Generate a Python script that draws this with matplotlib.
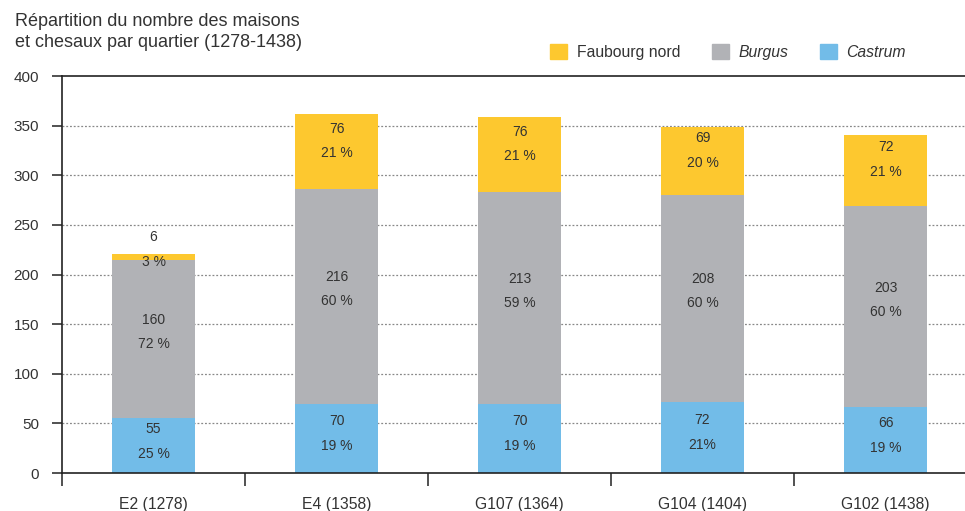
import matplotlib.pyplot as plt
from matplotlib.patches import Patch
import numpy as np

plt.rcParams['font.family'] = ['Liberation Sans', 'DejaVu Sans']

categories = ['E2 (1278)', 'E4 (1358)', 'G107 (1364)', 'G104 (1404)', 'G102 (1438)']
castrum = [55, 70, 70, 72, 66]
burgus = [160, 216, 213, 208, 203]
faubourg = [6, 76, 76, 69, 72]
castrum_pct = ['25 %', '19 %', '19 %', '21%', '19 %']
burgus_pct = ['72 %', '60 %', '59 %', '60 %', '60 %']
faubourg_pct = ['3 %', '21 %', '21 %', '20 %', '21 %']

c_yellow = '#FDC82F'
c_gray = '#B1B2B6'
c_blue = '#72BCE8'
txt = '#333333'

fig = plt.figure(figsize=(9.65, 5.11), dpi=100)
ax = fig.add_axes([62/965, 1-473/511, 1-62/965, (473-76)/511])

x = np.arange(len(categories))
w = 0.455
castrum = np.array(castrum)
burgus = np.array(burgus)
faubourg = np.array(faubourg)

ax.bar(x, castrum, w, color=c_blue, zorder=2)
ax.bar(x, burgus, w, bottom=castrum, color=c_gray, zorder=2)
ax.bar(x, faubourg, w, bottom=castrum + burgus, color=c_yellow, zorder=2)

# labels: value on top, share below
series = [
    (np.zeros(5), castrum, castrum_pct, 17, -8),
    (castrum, burgus, burgus_pct, 19, -5),
    (castrum + burgus, faubourg, faubourg_pct, 23, -2),
]
for bottom, vals, pcts, up, down in series:
    for i in range(len(x)):
        mid = bottom[i] + vals[i] / 2
        if vals[i] < 20:
            top = bottom[i] + vals[i]
            ax.text(x[i], top + 17, str(vals[i]), ha='center', va='center', fontsize=10, color=txt)
            ax.text(x[i], top - 8, pcts[i], ha='center', va='center', fontsize=10, color=txt, zorder=3)
        else:
            ax.text(x[i], mid + up, str(vals[i]), ha='center', va='center', fontsize=10, color=txt, zorder=3)
            ax.text(x[i], mid + down, pcts[i], ha='center', va='center', fontsize=10, color=txt, zorder=3)

ax.set_xlim(-0.5, 4.434)
ax.set_ylim(0, 400)
ax.set_yticks(range(0, 401, 50))
ax.tick_params(axis='y', direction='out', length=7.5, width=1.2, color='#333333',
               pad=9, labelsize=11, labelcolor=txt)
ax.set_xticks(x)
ax.set_xticklabels(categories)
ax.tick_params(axis='x', which='major', length=0, pad=17, labelsize=11.3, labelcolor=txt)
ax.set_xticks(np.arange(-0.5, 4.5, 1), minor=True)
ax.tick_params(axis='x', which='minor', direction='out', length=9, width=1.2, color='#333333')

for y in range(50, 400, 50):
    ax.axhline(y, color='#888888', linestyle=(0, (1.5, 1.5)), linewidth=0.9, zorder=1)

for s in ['left', 'bottom', 'top']:
    ax.spines[s].set_color('#222222')
    ax.spines[s].set_linewidth(1.2)
ax.spines['right'].set_visible(False)

fig.text(15/965, 1-13/511, 'Répartition du nombre des maisons\net chesaux par quartier (1278-1438)',
         ha='left', va='top', fontsize=13, color=txt, linespacing=1.3)

handles = [Patch(color=c_yellow), Patch(color=c_gray), Patch(color=c_blue)]
leg = fig.legend(handles, ['Faubourg nord', 'Burgus', 'Castrum'], ncol=3,
                 loc='center left', bbox_to_anchor=(550/965, 1-52/511), frameon=False,
                 fontsize=11.3, handlelength=1.1, handleheight=1.1, handletextpad=0.6,
                 columnspacing=2.0, borderaxespad=0, borderpad=0)
for t in leg.get_texts()[1:]:
    t.set_style('italic')
for t in leg.get_texts():
    t.set_color(txt)

fig.savefig('out.png', dpi=100)
